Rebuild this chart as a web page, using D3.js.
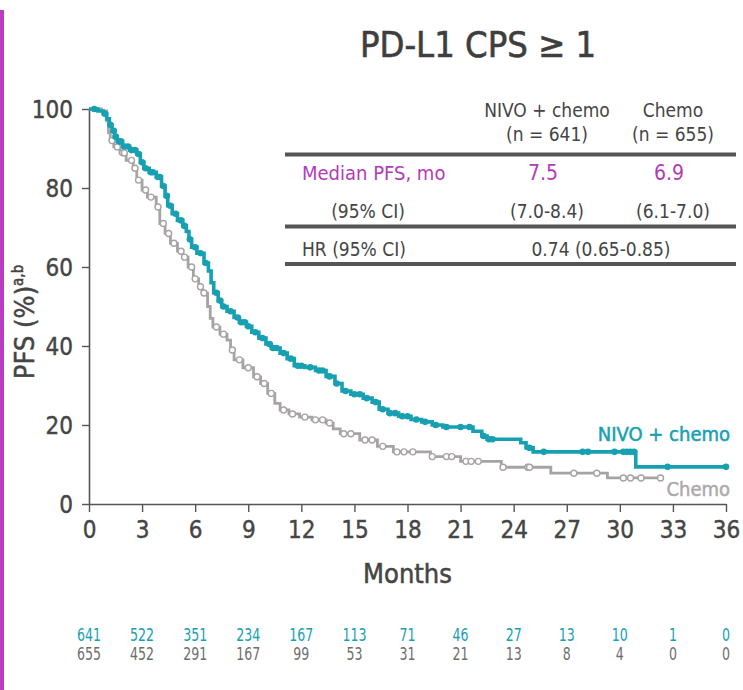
<!DOCTYPE html>
<html>
<head>
<meta charset="utf-8">
<script src="https://cdn.jsdelivr.net/npm/d3@7"></script>
<style>
  html, body { margin: 0; padding: 0; background: #ffffff; }
  svg { display: block; }
  text { font-family: "DejaVu Sans Condensed", "DejaVu Sans", sans-serif; }
</style>
</head>
<body>
<svg id="chart" width="743" height="690"></svg>
<script>
// Kaplan-Meier steps: [month, PFS %] after each drop
const nivoSteps = [
  [0, 100], [0.5, 99.5], [0.8, 98.8], [1.0, 97.5], [1.15, 96], [1.3, 94.5], [1.45, 93],
  [1.6, 91.8], [1.9, 90.5], [2.3, 89.6], [2.7, 88.6], [2.9, 86.5], [3.1, 85], [3.4, 84],
  [3.8, 82.8], [4.1, 80.5], [4.3, 78], [4.45, 75.5], [4.7, 73.5], [5.0, 71.8], [5.3, 70.4],
  [5.5, 69], [5.65, 67], [5.8, 65], [6.1, 63.5], [6.5, 61], [6.75, 59], [6.9, 56],
  [7.05, 53.5], [7.3, 51.5], [7.5, 50], [7.8, 48.8], [8.2, 47.2], [8.5, 46], [8.9, 45],
  [9.2, 43.5], [9.6, 42], [10.0, 40.5], [10.3, 39.5], [10.8, 38.2], [11.2, 36.8],
  [11.6, 35], [12.2, 34.6], [12.8, 33.8], [13.4, 32.3], [13.9, 30.5], [14.3, 28.6],
  [14.8, 27.8], [15.5, 26.8], [16.0, 25.8], [16.4, 24], [16.9, 23], [17.5, 22.2],
  [18.2, 21.4], [18.8, 20.8], [19.4, 20], [20.0, 19.5], [21.7, 18.4], [22.2, 17.2],
  [22.5, 16.4], [24.4, 15.5], [24.7, 14.2], [25.1, 13.2], [30.9, 9.4], [36, 9.4]
];
const chemoSteps = [
  [0, 100], [0.7, 99.5], [1.0, 97], [1.1, 94], [1.2, 92], [1.4, 90.4], [1.75, 88.9],
  [2.1, 87], [2.5, 85], [2.7, 82], [3.0, 79.5], [3.3, 77.7], [3.8, 75.2], [4.0, 71],
  [4.3, 68.5], [4.6, 66], [5.0, 64], [5.3, 62.5], [5.6, 60], [5.9, 57], [6.2, 55],
  [6.4, 53.4], [6.7, 50], [6.85, 47], [7.0, 44.8], [7.4, 43], [7.8, 41.5], [8.0, 39],
  [8.2, 36.5], [8.7, 34.5], [9.3, 32.2], [9.7, 30.5], [10.1, 28], [10.5, 25.5],
  [10.8, 23.8], [11.3, 22.8], [11.9, 22], [12.6, 21.3], [13.4, 20.5], [13.8, 19],
  [14.2, 17.8], [15.3, 16.2], [16.3, 14.6], [17.2, 13.2], [19.3, 12], [21.0, 10.8],
  [23.3, 9.3], [26.1, 7.8], [29.3, 6.6], [32.3, 6.6]
];

// Censoring times (months)
const nivoCensor = [
  0.3, 0.9, 1.2, 1.4, 1.5, 1.7, 1.8, 2.0, 2.2, 2.4, 2.6, 2.8, 3.0, 3.2, 3.5, 3.6, 3.9,
  4.0, 4.2, 4.4, 4.6, 4.9, 5.2, 5.4, 5.7, 6.0, 6.3, 6.6, 7.2, 7.4, 7.6, 8.0, 8.4, 8.6,
  8.8, 9.0, 9.4, 9.8, 10.2, 10.4, 10.6, 11.0, 11.4, 11.8, 12.0, 12.5, 13.0, 13.2, 13.6,
  14.0, 14.5, 15.0, 15.3, 15.7, 16.2, 16.6, 17.0, 17.3, 17.7, 18.0, 18.5, 19.0, 19.6,
  20.2, 21.0, 21.5, 22.3, 22.6, 22.8, 24.9, 25.7, 27.9, 28.2, 29.7, 30.2, 30.4, 30.6,
  30.8, 32.7, 36
];
const chemoCensor = [
  1.3, 1.6, 1.9, 2.0, 2.4, 2.6, 2.8, 3.2, 3.5, 3.9, 4.2, 4.5, 4.8, 5.2, 5.4, 5.8, 6.0,
  6.3, 6.5, 7.2, 7.6, 8.1, 8.5, 9.0, 9.5, 9.9, 10.3, 11.0, 11.5, 12.2, 12.8, 13.2,
  13.6, 14.4, 14.8, 15.6, 16.0, 16.6, 17.4, 17.8, 18.3, 19.4, 20.2, 20.5, 21.3, 21.6,
  22.0, 23.4, 24.8, 24.9, 27.4, 28.7, 30.2, 30.6, 31.2, 32.3
];

// Axis ticks and numbers at risk
const monthTicks = [0, 3, 6, 9, 12, 15, 18, 21, 24, 27, 30, 33, 36];
const pfsTicks = [0, 20, 40, 60, 80, 100];
const nivoAtRisk = [641, 522, 351, 234, 167, 113, 71, 46, 27, 13, 10, 1, 0];
const chemoAtRisk = [655, 452, 291, 167, 99, 53, 31, 21, 13, 8, 4, 0, 0];

// Summary table
const tableHeader = [["NIVO + chemo", "(n = 641)"], ["Chemo", "(n = 655)"]];
const medianPFS = ["7.5", "6.9"];
const medianCI = ["(7.0-8.4)", "(6.1-7.0)"];
const hrText = "0.74 (0.65-0.85)";

const TEAL = "#17a0b2";
const GREY = "#a7a3a3";
const INK = "#454545";
const PURPLE = "#b43bb8";

const svg = d3.select("#chart");

// Left accent bar
svg.append("rect").attr("x", 0).attr("y", 10).attr("width", 4).attr("height", 680)
  .attr("fill", "#bb3cc4");

const x = d3.scaleLinear().domain([0, 36]).range([89, 726]);
const y = d3.scaleLinear().domain([0, 100]).range([504, 109]);

// Title
svg.append("text").attr("x", 478).attr("y", 57).attr("text-anchor", "middle")
  .attr("font-size", 36).attr("fill", "#3e3e3e").attr("stroke", "#3e3e3e")
  .attr("stroke-width", 0.6).text("PD-L1 CPS ≥ 1");

// Axes
const xAxis = svg.append("g").attr("transform", `translate(0,${y(0)})`)
  .call(d3.axisBottom(x).tickValues(monthTicks).tickSize(8).tickPadding(9).tickSizeOuter(0));
const yAxis = svg.append("g").attr("transform", `translate(${x(0)},0)`)
  .call(d3.axisLeft(y).tickValues(pfsTicks).tickSize(7).tickPadding(9).tickSizeOuter(0));
[xAxis, yAxis].forEach(g => {
  g.select(".domain").attr("stroke", "#555").attr("stroke-width", 1.6);
  g.selectAll(".tick line").attr("stroke", "#555").attr("stroke-width", 1.4);
  g.selectAll(".tick text").attr("fill", INK).attr("font-size", 24)
    .attr("stroke", INK).attr("stroke-width", 0.4)
    .style("font-family", '"DejaVu Sans Condensed", "DejaVu Sans", sans-serif');
});
yAxis.selectAll(".tick text").attr("dy", "0.36em");

// Axis titles
svg.append("text").attr("x", x(18)).attr("y", 583).attr("text-anchor", "middle")
  .attr("font-size", 27).attr("fill", INK).attr("stroke", INK).attr("stroke-width", 0.5)
  .text("Months");
const yl = svg.append("text").attr("transform", "translate(34,322) rotate(-90)")
  .attr("text-anchor", "middle").attr("font-size", 27).attr("fill", INK)
  .attr("stroke", INK).attr("stroke-width", 0.5);
yl.append("tspan").text("PFS (%)");
yl.append("tspan").attr("font-size", 15).attr("dy", -11).text("a,b");

// Curves
const line = d3.line().x(d => x(d[0])).y(d => y(d[1])).curve(d3.curveStepAfter);
const survAt = (steps, t) => {
  let v = steps[0][1];
  for (const s of steps) { if (s[0] <= t) v = s[1]; else break; }
  return v;
};

svg.append("path").datum(chemoSteps).attr("d", line).attr("fill", "none")
  .attr("stroke", GREY).attr("stroke-width", 2.8);
svg.append("g").selectAll("circle").data(chemoCensor).join("circle")
  .attr("cx", d => x(d)).attr("cy", d => y(survAt(chemoSteps, d))).attr("r", 3)
  .attr("fill", "#fff").attr("stroke", GREY).attr("stroke-width", 1.4);

svg.append("path").datum(nivoSteps).attr("d", line).attr("fill", "none")
  .attr("stroke", TEAL).attr("stroke-width", 3.6);
svg.append("g").selectAll("circle").data(nivoCensor).join("circle")
  .attr("cx", d => x(d)).attr("cy", d => y(survAt(nivoSteps, d))).attr("r", 3.3)
  .attr("fill", TEAL);

// Curve labels
svg.append("text").attr("x", 730).attr("y", 441).attr("text-anchor", "end")
  .attr("font-size", 20).attr("fill", TEAL).attr("stroke", TEAL).attr("stroke-width", 0.5)
  .text("NIVO + chemo");
svg.append("text").attr("x", 730).attr("y", 496).attr("text-anchor", "end")
  .attr("font-size", 20).attr("fill", "#aeaaaa").attr("stroke", "#aeaaaa")
  .attr("stroke-width", 0.5).text("Chemo");

// Summary table
const colX = [547, 673];
const tbl = svg.append("g").attr("fill", INK).attr("font-size", 19);
tableHeader.forEach((h, i) => {
  tbl.append("text").attr("x", colX[i]).attr("y", 117).attr("text-anchor", "middle").text(h[0]);
  tbl.append("text").attr("x", colX[i]).attr("y", 141).attr("text-anchor", "middle").text(h[1]);
});
[154.5, 226.5, 264].forEach(ly => {
  svg.append("line").attr("x1", 285).attr("x2", 736).attr("y1", ly).attr("y2", ly)
    .attr("stroke", "#555").attr("stroke-width", 4);
});
tbl.append("text").attr("x", 302).attr("y", 180).attr("fill", PURPLE).attr("font-size", 20)
  .text("Median PFS, mo");
medianPFS.forEach((m, i) => {
  tbl.append("text").attr("x", colX[i] - 4).attr("y", 180).attr("text-anchor", "middle")
    .attr("fill", PURPLE).attr("font-size", 21).text(m);
});
tbl.append("text").attr("x", 368).attr("y", 218).attr("text-anchor", "middle").text("(95% CI)");
medianCI.forEach((c, i) => {
  tbl.append("text").attr("x", colX[i]).attr("y", 218).attr("text-anchor", "middle").text(c);
});
tbl.append("text").attr("x", 302).attr("y", 256).text("HR (95% CI)");
tbl.append("text").attr("x", 601).attr("y", 256).attr("text-anchor", "middle").text(hrText);

// Numbers at risk (narrowed digits)
const risk = svg.append("g").attr("font-size", 18).attr("text-anchor", "middle");
risk.selectAll(".nivo").data(nivoAtRisk).join("text").attr("class", "nivo")
  .attr("x", (d, i) => x(monthTicks[i])).attr("y", 641).attr("fill", TEAL)
  .attr("textLength", d => String(d).length * 8).attr("lengthAdjust", "spacingAndGlyphs")
  .text(d => d);
risk.selectAll(".chemo").data(chemoAtRisk).join("text").attr("class", "chemo")
  .attr("x", (d, i) => x(monthTicks[i])).attr("y", 660).attr("fill", "#6e6e6e")
  .attr("textLength", d => String(d).length * 8).attr("lengthAdjust", "spacingAndGlyphs")
  .text(d => d);
</script>
</body>
</html>
